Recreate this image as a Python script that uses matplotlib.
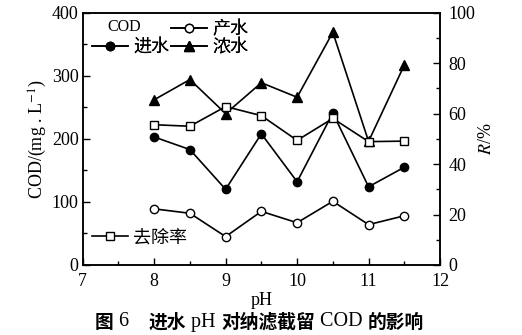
import matplotlib
matplotlib.use("Agg")
import matplotlib.pyplot as plt
from matplotlib.lines import Line2D

plt.rcParams['font.family'] = ['Liberation Serif', 'Noto Sans CJK SC', 'DejaVu Sans']
plt.rcParams['mathtext.fontset'] = 'stix'

ph = [8, 8.5, 9, 9.5, 10, 10.5, 11, 11.5]
feed = [203, 183, 120, 208, 132, 241, 124, 155]          # 进水
permeate = [89, 82, 45, 85, 67, 101, 64, 78]             # 产水
concentrate = [262, 294, 240, 289, 266, 369, 196, 317]   # 浓水
removal = [55.6, 55.0, 62.8, 59.2, 49.4, 58.1, 48.9, 49.1]  # 去除率 (%)

fig = plt.figure(figsize=(5.22, 3.35), dpi=100)
ax = fig.add_axes([0.1584, 0.209, 0.8430 - 0.1584, 0.962 - 0.209])
ax2 = ax.twinx()

lw = 1.2
l_perm, = ax.plot(ph, permeate, '-o', color='black', mfc='white', mec='black', ms=6, lw=lw, zorder=3)
l_feed, = ax.plot(ph, feed, '-o', color='black', mfc='black', ms=6, lw=lw, zorder=3)
l_conc, = ax.plot(ph, concentrate, '-^', color='black', mfc='black', ms=6.5, lw=lw, zorder=3)
l_rem, = ax2.plot(ph, removal, '-s', color='black', mfc='white', mec='black', ms=5.5, lw=lw, zorder=3)

ax.set_xlim(7, 12)
ax.set_ylim(0, 400)
ax2.set_ylim(0, 100)
ax.set_xticks([7, 8, 9, 10, 11, 12])
ax.set_xticks([7.5, 8.5, 9.5, 10.5, 11.5], minor=True)
ax.set_yticks([0, 100, 200, 300, 400])
ax.set_yticks([50, 150, 250, 350], minor=True)
ax2.set_yticks([0, 20, 40, 60, 80, 100])
ax2.set_yticks([10, 30, 50, 70, 90], minor=True)

fs = 13
for a in (ax, ax2):
    a.tick_params(which='both', direction='in', labelsize=fs, width=1)
    a.tick_params(which='major', length=5)
    a.tick_params(which='minor', length=3)
    for s in a.spines.values():
        s.set_linewidth(1.1)
ax.tick_params(axis='y', pad=3)
ax2.tick_params(axis='y', pad=6)
ax.tick_params(axis='x', pad=6)

ax.set_ylabel('COD/(mg . L$^{-1}$)', fontsize=fs, labelpad=2)
ax2.set_ylabel('$R$/%', fontsize=fs, labelpad=2)
ax.set_xlabel('pH', fontsize=fs, labelpad=1)

blank = Line2D([], [], linestyle='none')
leg1 = ax.legend([blank, l_feed, l_perm, l_conc], ['', '进水', '产水', '浓水'],
                 ncol=2, loc='upper left', bbox_to_anchor=(-0.005, 1.01), frameon=False,
                 fontsize=fs, handlelength=2.0, handletextpad=0.3, columnspacing=0.1,
                 labelspacing=0.05, borderaxespad=0.2)
ax.add_artist(leg1)
ax.text(0.07, 0.943, 'COD', transform=ax.transAxes, fontsize=11.5, ha='left', va='center')
ax2.legend([l_rem], ['去除率'], loc='lower left', bbox_to_anchor=(-0.005, 0.03), frameon=False,
           fontsize=fs, handlelength=2.0, handletextpad=0.3, borderaxespad=0.2)

# caption built from pieces: bold CJK, regular serif Latin
cjk = dict(family=['Noto Sans CJK SC', 'DejaVu Sans'], fontweight='bold', fontsize=13.5)
lat = dict(family=['Liberation Serif'], fontsize=14.5)
pieces = [('图', cjk), (' 6', lat), ('\u2003', lat), ('进水', cjk), (' pH ', lat),
          ('对纳滤截留', cjk), (' COD ', lat), ('的影响', cjk)]
renderer = fig.canvas.get_renderer()
x_px = 95
y_fig = 1 - 322 / 335
for s, kw in pieces:
    t = fig.text(x_px / 522, y_fig, s, ha='left', va='center', **kw)
    bb = t.get_window_extent(renderer=renderer)
    x_px += bb.width

fig.savefig('out.png', dpi=100)
